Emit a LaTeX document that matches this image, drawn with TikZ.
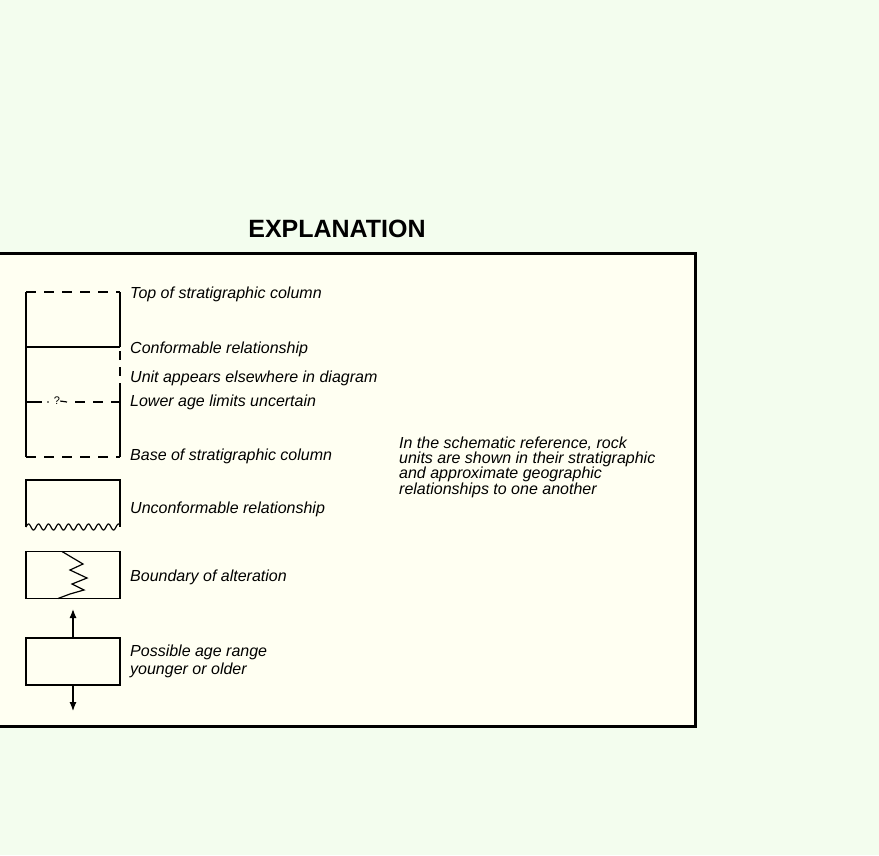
\documentclass[tikz,border=0pt]{standalone}
\usepackage{fontspec}
\setmainfont{Liberation Sans}
\usetikzlibrary{positioning,arrows.meta}

\definecolor{sheetgreen}{HTML}{F3FDEE}
\definecolor{panelcream}{HTML}{FFFFF2}

\tikzset{
	legtext/.style={anchor=base west, inner sep=0pt, font=\fontsize{16}{15.3}\selectfont\itshape},
	unitbox/.style={draw, minimum width=94pt, minimum height=47pt, inner sep=0pt},
	colline/.style={line width=1.2pt},
	gapdash/.style={colline, dash pattern=on 10pt off 8pt},
	agearrow/.style={colline, -{Latex[length=9pt,width=7pt]}},
}

\begin{document}
\begin{tikzpicture}[x=1pt, y=-1pt]
	\fill[sheetgreen] (0,0) rectangle (879,855);
	\useasboundingbox (0,0) rectangle (879,855);

	\node (title) [font=\fontsize{25}{28}\selectfont\bfseries] at (337,229) {EXPLANATION};
	\filldraw[fill=panelcream, line width=3pt] (-5,253) rectangle (695,726);

	% stratigraphic column
	\draw[colline] (26,457) -- (26,292);
	\draw[gapdash] (26,292) -- (120,292);
	\draw[colline] (120,292) -- (120,347);
	\draw[colline] (26,347) -- (120,347);
	\draw[colline, dash pattern=on 9pt off 7pt, dash phase=-4pt] (120,347) -- (120,387);
	\draw[colline] (120,387) -- (120,457);
	\draw[colline] (26,402) -- (42,402);
	\fill (48,402) circle (0.9pt);
	\node (query) [inner sep=0pt, font=\fontsize{11}{12}\selectfont] at (57,401) {?};
	\draw[colline] (query.east) -- (67,402);
	\draw[gapdash] (75,402) -- (120,402);
	\draw[gapdash] (26,457) -- (120,457);

	\node (toplbl)  [legtext] at (130,298) {Top of stratigraphic column};
	\node (conflbl) [legtext] at (130,353) {Conformable relationship};
	\node (unitlbl) [legtext] at (130,382) {Unit appears elsewhere in diagram};
	\node (lowlbl)  [legtext] at (130,406) {Lower age limits uncertain};
	\node (baselbl) [legtext] at (130,460) {Base of stratigraphic column};

	% unconformity
	\draw[colline] (26,527) -- (26,480) -- (120,480) -- (120,527);
	\draw[colline] plot[domain=26:120, samples=200] (\x, {527-3*sin((\x-26)*36)});
	\node (unclbl) [legtext] at (130,513) {Unconformable relationship};

	% alteration
	\node (altbox) [unitbox, colline] at (73,575) {};
	\draw[colline] (62,551.5) -- (83,564) -- (70,570) -- (87,578) -- (72,584) -- (84,590) -- (70,594) -- (58,598.5);
	\node (altlbl) [legtext] at (130,581) {Boundary of alteration};

	% age range
	\node (agebox) [unitbox, colline] at (73,661.5) {};
	\coordinate (younger) at (73,609);
	\coordinate (older) at (73,711);
	\draw[agearrow] (agebox.north) -- (younger);
	\draw[agearrow] (agebox.south) -- (older);
	\node (agelbl) [legtext] at (130,656) {Possible age range};
	\node (agelbl2) [legtext] at (130,674) {younger or older};

	\node (note) [legtext, align=left] at (399,494) {In the schematic reference, rock\\units are shown in their stratigraphic\\and approximate geographic\\relationships to one another};
\end{tikzpicture}
\end{document}
